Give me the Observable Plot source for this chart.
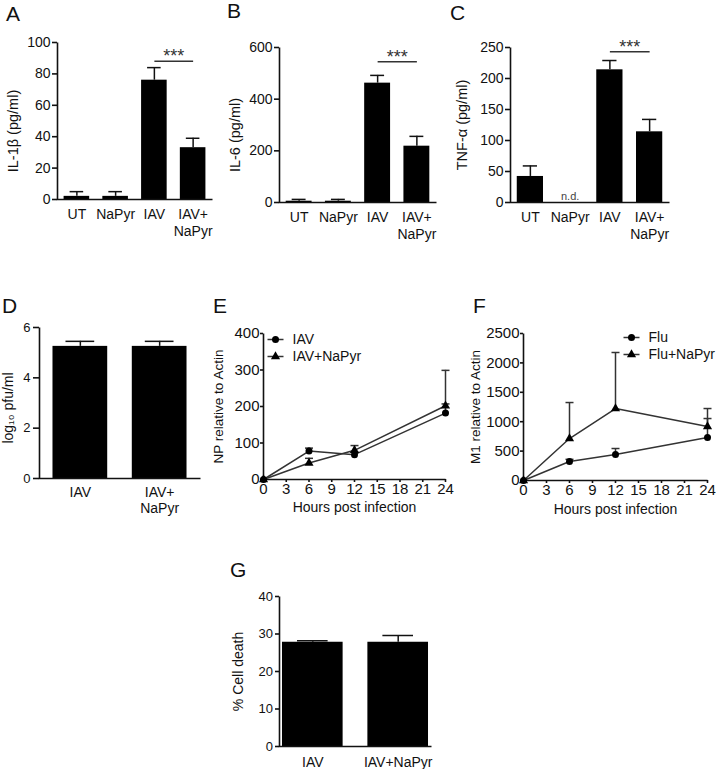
<!DOCTYPE html>
<html><head><meta charset="utf-8">
<script src="https://cdn.jsdelivr.net/npm/d3@7"></script>
<script src="https://cdn.jsdelivr.net/npm/@observablehq/plot@0.6"></script>
<style>
html,body{margin:0;padding:0;background:#fff;}
#fig{position:relative;width:716px;height:769px;overflow:hidden;font-family:Arial,"Liberation Sans",sans-serif;color:#111;background:#fff;}
#fig svg{position:absolute;left:0;top:0;}
.plab{position:absolute;font-size:21px;line-height:1;color:#111;}
[aria-label^="x-axis"],[aria-label^="y-axis"]{stroke-width:1.6px;}
</style></head>
<body><div id="fig"></div>
<script>
// ---------- data ----------
const cytoCats = ["UT", "NaPyr", "IAV", "IAV+NaPyr"];
const il1bMean = [2, 2, 76, 33];
const il1bErr = [5, 5, 84, 39];
const il1bTicks = [0, 20, 40, 60, 80, 100];
const il6Mean = [5, 5, 462, 218];
const il6Err = [12, 12, 492, 256];
const il6Ticks = [0, 200, 400, 600];
const tnfMean = [42, 0, 214, 114];
const tnfErr = [59, null, 229, 134];
const tnfTicks = [0, 50, 100, 150, 200, 250];
const tnfNotDetected = ["NaPyr"];
const sigPair = ["IAV", "IAV+NaPyr"];
const sigLevels = {il1b: 88, il6: 545, tnf: 243};

const infCats = ["IAV", "IAV+NaPyr"];
const titerMean = [5.25, 5.25];
const titerErr = [5.45, 5.45];
const titerTicks = [0, 2, 4, 6];
const deathMean = [27.8, 27.8];
const deathErr = [28.2, 29.6];
const deathTicks = [0, 10, 20, 30, 40];

const hours = [0, 6, 12, 24];
const hourTicks = [0, 3, 6, 9, 12, 15, 18, 21, 24];
const npIAV = [0, 78, 68, 182];
const npIAVErr = [0, 86, 75, 207];
const npNaPyr = [0, 45, 80, 202];
const npNaPyrErr = [0, 58, 93, 299];
const npTicks = [0, 100, 200, 300, 400];
const m1Flu = [0, 323, 442, 731];
const m1FluErr = [0, 360, 544, 1054];
const m1FluNaPyr = [0, 714, 1224, 918];
const m1FluNaPyrErr = [0, 1326, 2177, 1224];
const m1Ticks = [0, 500, 1000, 1500, 2000, 2500];

// ---------- helpers ----------
const W = 716, H = 769;
const fig = document.getElementById("fig");
const FONT = 'Arial, "Liberation Sans", sans-serif';
const INK = "#111";
const hline = {draw(ctx, size) { const r = Math.sqrt(size / Math.PI); ctx.moveTo(-r, 0); ctx.lineTo(r, 0); }};

function place(svg, ls) {
  if (ls) d3.select(svg).selectAll('[aria-label="ylabel"]').style("letter-spacing", ls + "px");
  fig.appendChild(svg);
}

// left + bottom axis lines: frame stroked only along bottom and left edges
function axesLines(o) {
  const w = o.x1 - o.x0, h = o.y1 - o.y0;
  return Plot.frame({stroke: "#111", strokeWidth: 1.6, strokeDasharray: `0 ${w + h} ${w + h}`});
}

function yLabelMark(label, o) {
  return Plot.text([label], {x: null, y: null, text: d => d, frameAnchor: "left", textAnchor: "middle", rotate: -90,
    dx: -o.ldx, dy: o.ldy || 0, fontSize: o.lfs || 14, fill: INK, ariaLabel: "ylabel"});
}

function barPanel(o) {
  const data = o.cats.map((c, i) => ({cat: c, val: o.mean[i], err: o.err[i]}));
  const errData = data.filter(d => d.err != null && d.err > d.val);
  const n = o.cats.length;
  const step = (o.x1 - o.x0) / (n - o.pi + 2 * o.po);
  const marks = [
    Plot.barY(data, {x: "cat", y: "val", fill: "#000"}),
    Plot.ruleX(errData, {x: "cat", y1: "val", y2: "err", stroke: "#111", strokeWidth: 1.5}),
    Plot.tickY(errData, {x: "cat", y: "err", stroke: "#111", strokeWidth: 1.5, insetLeft: o.capInset, insetRight: o.capInset}),
    Plot.axisY({ticks: o.yTicks, tickSize: o.yts, tickPadding: o.ytp, fontSize: o.yfs, label: null, tickFormat: d => String(d)}),
    Plot.axisX({tickSize: 0, tickPadding: o.xtp, fontSize: 14, label: null, lineHeight: o.lh || 1.2,
      tickFormat: o.xfmt || (d => d)}),
    axesLines(o),
    yLabelMark(o.yLabel, o)
  ];
  if (o.sig != null) {
    const s = [{a: sigPair[0], b: sigPair[1], y: o.sig}];
    marks.push(Plot.link(s, {x1: "a", x2: "b", y1: "y", y2: "y", stroke: "#333", strokeWidth: 1.5}));
    marks.push(Plot.text(s, {x: "a", y: "y", text: () => "***", dx: step / 2, dy: 1, lineAnchor: "bottom", fontSize: 18, fill: "#333"}));
  }
  if (o.nd) {
    marks.push(Plot.text(o.nd, {x: d => d, y: 0, text: () => "n.d.", lineAnchor: "bottom", dy: -3, fontSize: 11, fill: "#444"}));
  }
  const svg = Plot.plot({
    width: W, height: H,
    marginLeft: o.x0, marginRight: W - o.x1, marginTop: o.y0, marginBottom: H - o.y1,
    style: {fontFamily: FONT, color: INK, background: "transparent", overflow: "visible"},
    x: {type: "band", domain: o.cats, paddingInner: o.pi, paddingOuter: o.po, round: false},
    y: {domain: [0, o.yTicks[o.yTicks.length - 1]]},
    marks
  });
  place(svg, o.ls);
}

function linePanel(o) {
  const rows = [];
  o.series.forEach(s => hours.forEach((h, i) => rows.push({s: s.name, t: h, v: s.mean[i], err: s.err[i], sym: s.symbol})));
  const errRows = rows.filter(d => d.err > d.v);
  const marks = [
    Plot.axisY({ticks: o.yTicks, tickSize: 3, tickPadding: 1, fontSize: 15, label: null, tickFormat: d => String(d)}),
    Plot.axisX({ticks: hourTicks, tickSize: 3, tickPadding: 1, fontSize: 15, label: null, tickFormat: d => String(d)}),
    axesLines(o),
    Plot.line(rows, {x: "t", y: "v", z: "s", stroke: "#333", strokeWidth: 1.5}),
    Plot.ruleX(errRows, {x: "t", y1: "v", y2: "err", stroke: "#333", strokeWidth: 1.5}),
    Plot.dot(errRows, {x: "t", y: "err", symbol: hline, r: 4, stroke: "#333", fill: "none", strokeWidth: 1.5}),
    Plot.dot(rows.filter(d => d.sym === "circle"), {x: "t", y: "v", symbol: "circle", r: 3.5, fill: "#000"}),
    Plot.dot(rows.filter(d => d.sym === "triangle"), {x: "t", y: "v", symbol: "triangle", r: 3.4, fill: "#000"}),
    Plot.text([o.xLabel], {x: null, y: null, text: d => d, frameAnchor: "bottom", dy: o.xldy, fontSize: 14, fill: INK}),
    yLabelMark(o.yLabel, o)
  ];
  o.series.forEach((s, k) => {
    const dy = o.legDy + k * 17;
    marks.push(Plot.dot([s.name], {x: null, y: null, frameAnchor: "top-left", dx: o.legDx, dy, symbol: hline, r: 8, stroke: "#333", fill: "none", strokeWidth: 1.5}));
    marks.push(Plot.dot([s.name], {x: null, y: null, frameAnchor: "top-left", dx: o.legDx, dy, symbol: s.symbol, r: s.symbol === "circle" ? 3.5 : 3.4, fill: "#000"}));
    marks.push(Plot.text([s.name], {x: null, y: null, text: d => d, frameAnchor: "top-left", dx: o.legDx + 17, dy, textAnchor: "start", lineAnchor: "middle", fontSize: 14, fill: INK}));
  });
  const svg = Plot.plot({
    width: W, height: H,
    marginLeft: o.x0, marginRight: W - o.x1, marginTop: o.y0, marginBottom: H - o.y1,
    style: {fontFamily: FONT, color: INK, background: "transparent", overflow: "visible"},
    x: {type: "linear", domain: [0, 24]},
    y: {domain: [0, o.yTicks[o.yTicks.length - 1]]},
    marks
  });
  place(svg, o.ls);
}

const twoLine = d => d === "IAV+NaPyr" ? "IAV+\nNaPyr" : d;

// ---------- panels ----------
barPanel({cats: cytoCats, mean: il1bMean, err: il1bErr, yTicks: il1bTicks, yLabel: "IL-1β (pg/ml)",
  x0: 57, x1: 212, y0: 42, y1: 199, pi: 0.34, po: 0.17, capInset: 6, yts: 5, ytp: 2, yfs: 14, xtp: 8,
  xfmt: twoLine, ldx: 44, ldy: 10, ls: 2.2, lfs: 14.5, sig: sigLevels.il1b});
barPanel({cats: cytoCats, mean: il6Mean, err: il6Err, yTicks: il6Ticks, yLabel: "IL-6 (pg/ml)",
  x0: 279, x1: 436, y0: 47, y1: 202, pi: 0.34, po: 0.17, capInset: 6, yts: 5, ytp: 2, yfs: 14, xtp: 8,
  xfmt: twoLine, ldx: 44, ldy: 10, ls: 2.6, lfs: 14.5, sig: sigLevels.il6});
barPanel({cats: cytoCats, mean: tnfMean, err: tnfErr, yTicks: tnfTicks, yLabel: "TNF-α (pg/ml)",
  x0: 510, x1: 669, y0: 47, y1: 202, pi: 0.34, po: 0.17, capInset: 6, yts: 5, ytp: 2, yfs: 14, xtp: 8,
  xfmt: twoLine, ldx: 48, ldy: 0, lfs: 14.5, sig: sigLevels.tnf, nd: tnfNotDetected});
barPanel({cats: infCats, mean: titerMean, err: titerErr, yTicks: titerTicks, yLabel: "log₁₀ pfu/ml",
  x0: 39, x1: 200, y0: 327, y1: 478, pi: 0.31, po: 0.17, capInset: 13, yts: 6, ytp: 3, yfs: 13, xtp: 8,
  xfmt: twoLine, lh: 1.1, ldx: 31, ldy: 5});
barPanel({cats: infCats, mean: deathMean, err: deathErr, yTicks: deathTicks, yLabel: "% Cell death",
  x0: 279, x1: 431, y0: 596, y1: 746, pi: 0.29, po: 0.035, capInset: 15, yts: 4, ytp: 2.5, yfs: 13, xtp: 9,
  ldx: 41, ldy: 0});
linePanel({series: [{name: "IAV", mean: npIAV, err: npIAVErr, symbol: "circle"},
                    {name: "IAV+NaPyr", mean: npNaPyr, err: npNaPyrErr, symbol: "triangle"}],
  yTicks: npTicks, yLabel: "NP relative to Actin", xLabel: "Hours post infection",
  x0: 263, x1: 445, y0: 333, y1: 479, xldy: 32, ldx: 45, ldy: 0, lfs: 13.5, legDx: 12, legDy: 6});
linePanel({series: [{name: "Flu", mean: m1Flu, err: m1FluErr, symbol: "circle"},
                    {name: "Flu+NaPyr", mean: m1FluNaPyr, err: m1FluNaPyrErr, symbol: "triangle"}],
  yTicks: m1Ticks, yLabel: "M1 relative to Actin", xLabel: "Hours post infection",
  x0: 523, x1: 707, y0: 333, y1: 480, xldy: 33, ldx: 48, ldy: 0, lfs: 13.5, legDx: 108, legDy: 4});

// panel letters
const panelLetters = [["A", 6, 6], ["B", 227, 3], ["C", 450, 5], ["D", 2, 298], ["E", 213, 298], ["F", 473, 298], ["G", 230, 562]];
panelLetters.forEach(([t, x, y]) => {
  const d = document.createElement("div");
  d.className = "plab"; d.textContent = t;
  d.style.left = x + "px"; d.style.top = (y - 3) + "px";
  fig.appendChild(d);
});
</script></body></html>
